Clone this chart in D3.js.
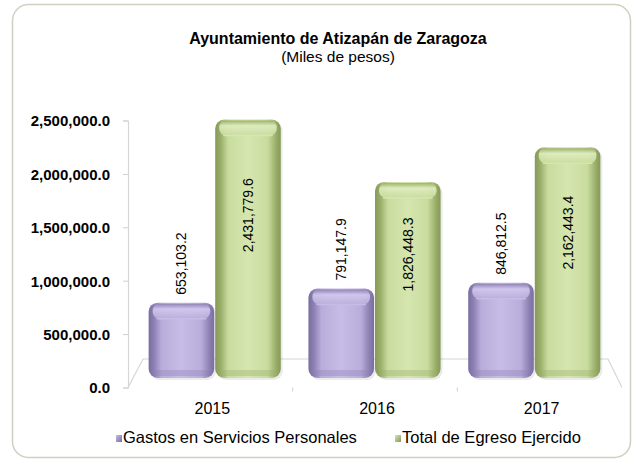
<!DOCTYPE html>
<html><head><meta charset="utf-8">
<script src="https://cdn.jsdelivr.net/npm/d3@7"></script>
<style>body{margin:0;background:#fff} svg{display:block} text{font-family:"Liberation Sans",Arial,sans-serif;fill:#000}</style>
</head><body><svg id="c" width="632" height="460"></svg>
<script>
const categories = ["2015", "2016", "2017"];
const seriesNames = ["Gastos en Servicios Personales", "Total de Egreso Ejercido"];
const gastos = [653103.2, 791147.9, 846812.5];
const total = [2431779.6, 1826448.3, 2162443.4];
const tickValues = [0, 500000, 1000000, 1500000, 2000000, 2500000];
const titleText = "Ayuntamiento de Atizapán de Zaragoza";
const subtitleText = "(Miles de pesos)";

const svg = d3.select("#c");
const defs = svg.append("defs");

const palettes = [
  {edge: "#8c7fb3", mid: "#b9aedb", light: "#c6bce5", top: "#d2c9ee", dark: "#7a6ea0"},
  {edge: "#98ad67", mid: "#c9dc9f", light: "#d5e6ae", top: "#e0edc0", dark: "#86995a"}
];
palettes.forEach((p, i) => {
  const g = defs.append("linearGradient").attr("id", "gh" + i).attr("x1", 0).attr("x2", 1).attr("y1", 0).attr("y2", 0);
  [[0, p.dark], [0.08, p.edge], [0.2, p.mid], [0.5, p.light], [0.8, p.mid], [0.93, p.edge], [1, p.dark]]
    .forEach(([o, c]) => g.append("stop").attr("offset", o).attr("stop-color", c));
  const t = defs.append("linearGradient").attr("id", "gt" + i).attr("x1", 0).attr("x2", 0).attr("y1", 0).attr("y2", 1);
  [[0, p.edge], [0.35, p.top], [1, p.mid]].forEach(([o, c]) => t.append("stop").attr("offset", o).attr("stop-color", c));
  const m = defs.append("linearGradient").attr("id", "gm" + i).attr("x1", 0).attr("x2", 1).attr("y1", 0).attr("y2", 1);
  [[0, p.light], [1, p.dark]].forEach(([o, c]) => m.append("stop").attr("offset", o).attr("stop-color", c));
});

// outer border
svg.append("rect").attr("x", 12.5).attr("y", 4.5).attr("width", 618).attr("height", 453)
  .attr("rx", 16).attr("fill", "#fff").attr("stroke", "#cfd0c0").attr("stroke-width", 1.5);

// title
svg.append("text").attr("x", 338).attr("y", 44).attr("text-anchor", "middle")
  .style("font-size", "16px").style("font-weight", "bold").text(titleText);
svg.append("text").attr("x", 338).attr("y", 62).attr("text-anchor", "middle")
  .style("font-size", "15.5px").text(subtitleText);

// scales
const y = d3.scaleLinear().domain([0, 2500000]).range([387.5, 120.5]);
const yBar = d3.scaleLinear().domain([0, 2500000]).range([370, 112.5]);
const barBase = 378;
const xFront = d3.scaleBand().domain(categories).range([128, 622]).padding(0);
const xBack = d3.scaleBand().domain(categories).range([143, 608]).padding(0);
const xBars = d3.scaleBand().domain(categories).range([122, 628]).paddingInner(1/6).paddingOuter(1/6);
const xSeries = d3.scaleBand().domain([0, 1]).range([0, xBars.bandwidth()]).padding(0);

// floor
const floorPts = [[xFront.range()[0], y(0)], [xBack.range()[0], 359], [xBack.range()[1], 359], [xFront.range()[1], y(0)]];
svg.append("path").attr("d", d3.line()(floorPts)).attr("fill", "none").attr("stroke", "#d6d6d6").attr("stroke-width", 1.2);
// category ticks
svg.selectAll(".ctick").data(categories.slice(1)).enter().append("line")
  .attr("x1", d => xFront(d)).attr("x2", d => xFront(d))
  .attr("y1", y(0)).attr("y2", y(0) + 4).attr("stroke", "#d0d0d0");

// y axis
const ax = svg.append("g").attr("transform", "translate(128,0)")
  .call(d3.axisLeft(y).tickValues(tickValues).tickFormat(d3.format(",.1f")).tickSize(5).tickPadding(13));
ax.select(".domain").attr("stroke", "#d6d6d6").attr("stroke-width", 1.2);
ax.selectAll(".tick line").attr("stroke", "#cfcfcf");
ax.selectAll(".tick text").style("font-size", "15px").style("font-weight", "bold")
  .style("font-family", '"Liberation Sans",Arial,sans-serif').attr("fill", "#000").attr("dy", "0.36em");

// bars
const data = [];
categories.forEach((c, i) => {
  data.push({cat: c, s: 0, v: gastos[i]});
  data.push({cat: c, s: 1, v: total[i]});
});
const fmt = d3.format(",.1f");
const bars = svg.selectAll(".bar").data(data).enter().append("g").attr("class", "bar");
bars.each(function(d) {
  const g = d3.select(this);
  const x0 = xBars(d.cat) + xSeries(d.s);
  const w = xSeries.bandwidth() - 1;
  const top = yBar(d.v);
  const h = barBase - top;
  // shadow
  g.append("rect").attr("x", x0 + 2).attr("y", top + 2).attr("width", w).attr("height", h)
    .attr("rx", 9).attr("fill", "#000").attr("opacity", 0.08);
  g.append("rect").attr("x", x0).attr("y", top).attr("width", w).attr("height", h)
    .attr("rx", 9).attr("fill", "url(#gh" + d.s + ")");
  // top bevel
  g.append("rect").attr("x", x0 + 4).attr("y", top + 1).attr("width", w - 8).attr("height", 15)
    .attr("rx", 7).attr("fill", "url(#gt" + d.s + ")").attr("opacity", 0.9);
  g.append("line").attr("x1", x0 + 8).attr("x2", x0 + w - 8).attr("y1", top + 16).attr("y2", top + 16)
    .attr("stroke", palettes[d.s].light).attr("stroke-width", 1.5);
  // bottom bevel
  g.append("rect").attr("x", x0 + 4).attr("y", barBase - 8).attr("width", w - 8).attr("height", 6)
    .attr("rx", 3).attr("fill", palettes[d.s].edge).attr("opacity", 0.35);
  // label
  const cx = x0 + w / 2 + 5;
  if (d.s === 0) {
    g.append("text").attr("transform", `translate(${cx},${top - 8}) rotate(-90)`)
      .attr("text-anchor", "start").style("font-size", "14px").text(fmt(d.v));
  } else {
    const cy = top + 0.37 * h;
    g.append("text").attr("transform", `translate(${cx},${cy}) rotate(-90)`)
      .attr("text-anchor", "middle").style("font-size", "14px").text(fmt(d.v));
  }
});

// category labels
svg.selectAll(".clab").data(categories).enter().append("text")
  .attr("x", d => xFront(d) + xFront.bandwidth() / 2 + 2).attr("y", 414)
  .attr("text-anchor", "middle").style("font-size", "16px").text(d => d);

// legend
const legX = [116, 395];
seriesNames.forEach((n, i) => {
  svg.append("rect").attr("x", legX[i]).attr("y", 435).attr("width", 6).attr("height", 7)
    .attr("fill", "url(#gm" + i + ")");
  svg.append("text").attr("x", legX[i] + 7).attr("y", 443).style("font-size", "16.5px").text(n);
});
</script></body></html>
